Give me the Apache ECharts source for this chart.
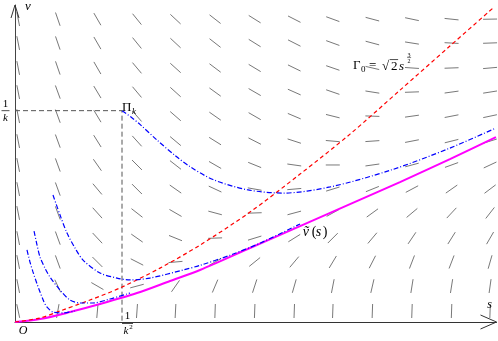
<!DOCTYPE html>
<html>
<head>
<meta charset="utf-8">
<script src="https://cdn.jsdelivr.net/npm/echarts@6/dist/echarts.min.js"></script>
<style>
  html, body { margin: 0; padding: 0; background: #fff; }
  #chart { width: 498px; height: 341px; }
</style>
</head>
<body>
<div id="chart"></div>
<script>
// direction field: grid of sample points and the segment angle (deg, screen, rows top -> bottom)
var fieldS = [0.03, 0.40, 0.77, 1.14, 1.50, 1.87, 2.24, 2.61, 2.97, 3.34, 3.71, 4.08, 4.44]
var fieldV = [1.433, 1.320, 1.202, 1.088, 0.974, 0.856, 0.743, 0.629, 0.516, 0.397, 0.284, 0.170, 0.052]
var fieldAngle = [
  [-79, -71, -60, -51, -43, -38, -32, -27, -20, -15, -12, -6, 1],
  [-79, -71, -60, -51, -43, -38, -32, -27, -20, -15, -9, -3, 2],
  [-79, -71, -60, -50, -42, -37, -31, -26, -19, -13, -4, 2, 5],
  [-79, -70, -59, -50, -42, -36, -30, -24, -19, -9, 2, 8, 9],
  [-79, -70, -59, -49, -41, -35, -30, -23, -14, -2, 8, 11, 12],
  [-79, -70, -58, -48, -40, -32, -27, -18, -5, 4, 11, 14, 17],
  [-79, -70, -55, -45, -38, -30, -22, -8, 0, 8, 15, 20, 25],
  [-79, -70, -50, -45, -35, -25, -10, 5, 17, 22, 28, 35, 37],
  [-79, -70, -48, -38, -30, -15, 2, 15, 29, 36, 40, 47, 52],
  [-79, -70, -47, -35, -22, 2, 17, 32, 45, 50, 56, 58, 60],
  [-79, -70, -45, -27, 5, 30, 39, 50, 59, 63, 69, 69, 74],
  [-79, -65, -30, 15, 55, 67, 72, 74, 79, 77, 81, 81, 82],
  [-78, 80, 85, 86, 87, 88, 88, 88, 88, 88, 88, 88, 88]
]

// Gamma_0 (red dashed)
var gammaS = [0, 0.234, 0.421, 0.701, 0.981, 1.355, 1.729, 2.196, 2.664, 3.131, 3.598, 4.065, 4.477]
var gammaV = [0, 0.019, 0.052, 0.104, 0.161, 0.255, 0.364, 0.520, 0.700, 0.889, 1.097, 1.306, 1.490]

// v tilde (magenta)
var vbarS = [0, 0.234, 0.514, 0.794, 1.140, 1.449, 1.729, 2.196, 2.664, 3.131, 3.598, 4.065, 4.495]
var vbarV = [0, 0.014, 0.047, 0.085, 0.137, 0.194, 0.246, 0.350, 0.454, 0.558, 0.662, 0.771, 0.875]

// trajectories (blue dash-dot)
var orbit1S = [1.0, 1.084, 1.168, 1.327, 1.495, 1.636, 1.850, 2.168, 2.505, 2.944, 3.514, 4.065, 4.495]
var orbit1V = [1.0, 0.970, 0.935, 0.861, 0.788, 0.735, 0.674, 0.626, 0.610, 0.639, 0.719, 0.823, 0.918]
var orbit2S = [0.355, 0.421, 0.486, 0.561, 0.636, 0.794, 0.953, 1.075, 1.262, 1.570, 1.729, 2.009, 2.290, 2.664]
var orbit2V = [0.601, 0.506, 0.421, 0.350, 0.293, 0.232, 0.208, 0.199, 0.208, 0.246, 0.268, 0.316, 0.373, 0.464]
var orbit3S = [0.178, 0.206, 0.234, 0.280, 0.327, 0.421, 0.514, 0.607, 0.729, 0.888, 1.075]
var orbit3V = [0.430, 0.364, 0.307, 0.255, 0.213, 0.151, 0.104, 0.090, 0.090, 0.109, 0.137]
var orbit4S = [0.112, 0.140, 0.168, 0.206, 0.234, 0.271, 0.299, 0.355, 0.449, 0.561]
var orbit4V = [0.341, 0.284, 0.237, 0.180, 0.142, 0.095, 0.071, 0.047, 0.043, 0.052]

// Pi_k corner (1/k^2, 1/k)
var cornerS = [0, 1, 1]
var cornerV = [1, 1, 0]

function pairs(xs, ys) {
  return xs.map(function (x, i) { return [x, ys[i]] })
}

var fieldData = []
fieldV.forEach(function (v, j) {
  fieldS.forEach(function (s, i) {
    fieldData.push([s, v, fieldAngle[j][i]])
  })
})

var FONT = 'Liberation Serif'

function txt(x, y, s, size, italic, align) {
  return {
    type: 'text',
    style: {
      x: x, y: y, text: s,
      fontSize: size, fontFamily: FONT, fontStyle: italic ? 'italic' : 'normal',
      fill: '#000',
      align: align || 'center',
      verticalAlign: 'middle'
    }
  }
}
function seg(x1, y1, x2, y2, w) {
  return { type: 'line', shape: { x1: x1, y1: y1, x2: x2, y2: y2 }, style: { stroke: '#000', lineWidth: w || 0.8 } }
}

// label drawers, relative to their anchor pixel
var labelDraw = [
  function (x, y) { // Gamma_0 = sqrt2 s^(3/2)
    return [
      txt(x, y, 'Γ', 13, false, 'left'),
      txt(x + 8, y + 4, '0', 9, false, 'left'),
      txt(x + 16, y, '=', 13, false, 'left'),
      txt(x + 29, y + 1, '√', 13, false, 'left'),
      seg(x + 36.5, y - 6.5, x + 45, y - 6.5, 0.7),
      txt(x + 38, y + 1, '2', 13, false, 'left'),
      txt(x + 46, y + 1, 's', 13, true, 'left'),
      txt(x + 56, y - 11, '3', 6),
      seg(x + 54, y - 8.5, x + 58, y - 8.5, 0.5),
      txt(x + 56, y - 5, '2', 6)
    ]
  },
  function (x, y) { // v tilde (s)
    return [
      txt(x, y, 'ṽ', 14, true, 'left'),
      txt(x + 9, y, '(', 14, false, 'left'),
      txt(x + 13, y, 's', 14, true, 'left'),
      txt(x + 20, y, ')', 14, false, 'left')
    ]
  },
  function (x, y) { // Pi_k
    return [
      txt(x, y - 3, 'Π', 13, false, 'left'),
      txt(x + 10, y + 1, 'k', 9, true, 'left')
    ]
  },
  function (x, y) { // 1/k
    return [
      txt(x - 9.5, y - 6.5, '1', 11),
      seg(x - 13.5, y, x - 5.5, y, 0.7),
      txt(x - 9.5, y + 7.5, 'k', 11, true)
    ]
  },
  function (x, y) { // 1/k^2
    return [
      txt(x + 5.5, y - 6, '1', 11),
      seg(x, y + 1.5, x + 11, y + 1.5, 0.7),
      txt(x + 4, y + 9.5, 'k', 11, true),
      txt(x + 9, y + 5.5, '2', 7)
    ]
  },
  function (x, y) { return [txt(x + 8, y + 9, 'O', 12, true)] },
  function (x, y) { return [txt(x + 13, y + 2, 'v', 13, true)] },
  function (x, y) { return [txt(x - 7, y - 17, 's', 12, true)] }
]

var chart = echarts.init(document.getElementById('chart'))

var curve = function (name, data, color, width, type, z) {
  return {
    name: name, type: 'line', data: data, smooth: 0.3, showSymbol: false,
    symbol: 'none', z: z || 3, silent: true,
    lineStyle: { color: color, width: width, type: type }
  }
}

chart.setOption({
  animation: false,
  grid: { left: 15, top: 5, width: 481.5, height: 317 },
  xAxis: {
    type: 'value', min: 0, max: 4.5,
    axisLine: { show: true, lineStyle: { color: '#333', width: 1 } },
    axisTick: { show: false }, axisLabel: { show: false }, splitLine: { show: false }
  },
  yAxis: {
    type: 'value', min: 0, max: 1.5,
    axisLine: { show: true, lineStyle: { color: '#444', width: 1 } },
    axisTick: { show: false }, axisLabel: { show: false }, splitLine: { show: false }
  },
  series: [
    {
      type: 'custom', z: 1, silent: true,
      data: fieldData,
      encode: { x: 0, y: 1 },
      renderItem: function (params, api) {
        var c = api.coord([api.value(0), api.value(1)])
        var a = api.value(2) * Math.PI / 180
        var h = 7
        return {
          type: 'line',
          shape: { x1: c[0] - h * Math.cos(a), y1: c[1] + h * Math.sin(a), x2: c[0] + h * Math.cos(a), y2: c[1] - h * Math.sin(a) },
          style: { stroke: '#555', lineWidth: 0.8 }
        }
      }
    },
    {
      type: 'line', data: pairs(cornerS, cornerV), showSymbol: false, symbol: 'none', z: 2, silent: true,
      lineStyle: { color: '#555', width: 1, type: [5, 3] }
    },
    curve('vbar', pairs(vbarS, vbarV), '#ff00ff', 2, 'solid', 3),
    curve('gamma', pairs(gammaS, gammaV), '#ff0000', 1.2, [4, 3], 4),
    curve('o1', pairs(orbit1S, orbit1V), '#0000ff', 1.2, [5, 2, 1, 2], 4),
    curve('o2', pairs(orbit2S, orbit2V), '#0000ff', 1.2, [5, 2, 1, 2], 4),
    curve('o3', pairs(orbit3S, orbit3V), '#0000ff', 1.2, [5, 2, 1, 2], 4),
    curve('o4', pairs(orbit4S, orbit4V), '#0000ff', 1.2, [5, 2, 1, 2], 4),
    {
      // axis arrow heads
      type: 'custom', z: 5, silent: true, clip: false,
      data: [[4.5, 0], [0, 1.5]],
      renderItem: function (params, api) {
        var c = api.coord([api.value(0), api.value(1)])
        var pts = params.dataIndex === 0
          ? [[c[0] - 16, c[1] - 7], c, [c[0] - 16, c[1] + 7]]
          : [[c[0] - 4, c[1] + 13], c, [c[0] + 4, c[1] + 13]]
        return { type: 'polyline', shape: { points: pts }, style: { stroke: '#333', lineWidth: 1, fill: null } }
      }
    },
    {
      // text labels
      type: 'custom', z: 6, silent: true, clip: false,
      data: [[3.16, 1.211], [2.69, 0.426], [1, 1], [0, 1], [1, 0], [0, 0], [0, 1.5], [4.5, 0]],
      renderItem: function (params, api) {
        var c = api.coord([api.value(0), api.value(1)])
        return { type: 'group', children: labelDraw[params.dataIndex](c[0], c[1]) }
      }
    }
  ]
})
</script>
</body>
</html>
